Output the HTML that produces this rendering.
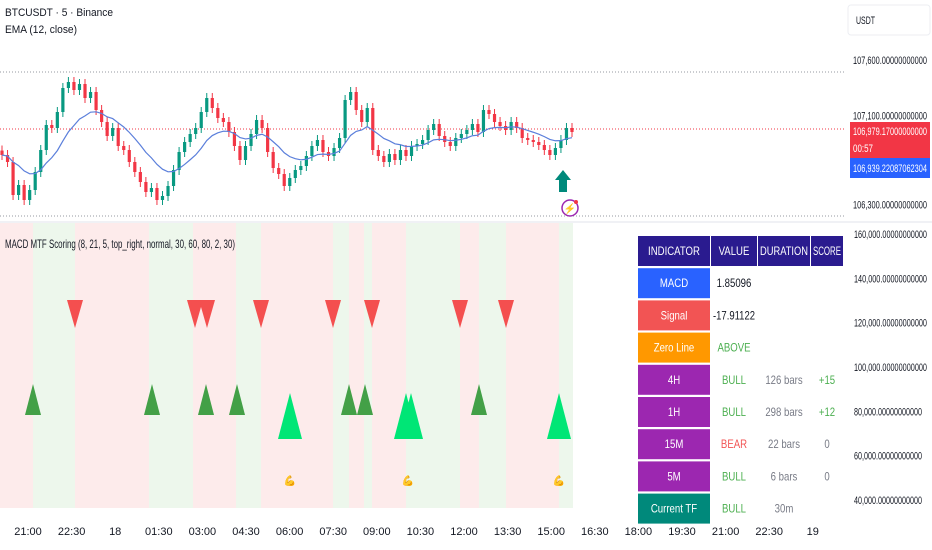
<!DOCTYPE html>
<html><head><meta charset="utf-8">
<style>
body{margin:0;width:932px;height:550px;background:#fff;overflow:hidden;font-family:"Liberation Sans",sans-serif}
svg{display:block}
text{font-family:"Liberation Sans",sans-serif}
</style></head>
<body>
<svg id="chart" width="932" height="550" viewBox="0 0 932 550">
  <g id="lower-bg"></g>
  <g id="upper"></g>
  <g id="lower"></g>
  <g id="axis"></g>
  <g id="timeaxis"></g>
  <text x="5" y="16" font-size="11" fill="#131722" textLength="108" lengthAdjust="spacingAndGlyphs">BTCUSDT · 5 · Binance</text>
  <text x="5" y="33" font-size="11" fill="#131722" textLength="72" lengthAdjust="spacingAndGlyphs">EMA (12, close)</text>
  <text x="5" y="248" font-size="12" fill="#131722" textLength="230" lengthAdjust="spacingAndGlyphs">MACD MTF Scoring (8, 21, 5, top_right, normal, 30, 60, 80, 2, 30)</text>
  <g><polygon points="563,170 571,180 567,180 567,192 559,192 559,180 555,180" fill="#00897b"/></g>
  <g><circle cx="570" cy="208" r="8" fill="none" stroke="#9c27b0" stroke-width="1.5"/><text x="570" y="212" font-size="10" fill="#9c27b0" text-anchor="middle">⚡</text><circle cx="576" cy="202" r="2" fill="#f23645"/></g>
  <g id="table"></g>
</svg>
<script>
const closes=[106745,106682,106385,106475,106340,106430,106592,106790,107015,106988,107132,107348,107402,107330,107384,107258,107312,107150,107042,106916,106988,106826,106790,106682,106592,106502,106412,106448,106340,106376,106466,106610,106772,106862,106934,106988,107132,107258,107168,107078,107042,106952,106826,106700,106826,106934,107060,106988,106772,106628,106574,106466,106538,106610,106646,106736,106826,106880,106772,106736,106808,106898,107240,107312,107150,107042,107168,106790,106736,106682,106754,106700,106790,106736,106826,106844,106880,106970,107024,106916,106862,106826,106898,106934,106970,107024,106952,107150,107114,107042,107006,106970,107042,106988,106898,106880,106862,106835,106790,106745,106808,106880,106988,106952];
const priceTicks=[107600,107100,106300];
const priceTickLabels=["107,600.00000000000","107,100.00000000000","106,300.00000000000"];
const lowerTicks=[160000,140000,120000,100000,80000,60000,40000];
const lowerTickLabels=["160,000.00000000000","140,000.00000000000","120,000.00000000000","100,000.00000000000","80,000.00000000000","60,000.00000000000","40,000.00000000000"];
const timeLabels=["21:00","22:30","18","01:30","03:00","04:30","06:00","07:30","09:00","10:30","12:00","13:30","15:00","16:30","18:00","19:30","21:00","22:30","19"];
const bgStarts=[0,33,75,149,193,236,261,333,349,364,372,406,460,479,506,559];
const bgTypes=["bear","bull","bear","bull","bear","bull","bear","bull","bear","bull","bear","bull","bear","bull","bear","bull"];
const sellSignals=[75,195,207,261,333,372,460,506];
const buySignals=[33,152,206,237,349,365,479];
const strongBuySignals=[290,406,411,559];
const flexSignals=[290,408,559];
const NS="http://www.w3.org/2000/svg";
function mk(t,a,p){const e=document.createElementNS(NS,t);for(const k in a)e.setAttribute(k,a[k]);p.appendChild(e);return e;}
function sq(el,w){el.setAttribute('textLength',w);el.setAttribute('lengthAdjust','spacingAndGlyphs');}
const py=v=>60+(107600-v)/9;
const xi=i=>2+i*570/(closes.length-1);
const ly=v=>234+(160000-v)*(266/120000);
const up=document.getElementById('upper');
let l=mk('line',{x1:0,x2:845,y1:72,y2:72,stroke:'#9598a1','stroke-dasharray':'1,2'},up);

l=mk('line',{x1:0,x2:845,y1:216,y2:216,stroke:'#9598a1','stroke-dasharray':'1,2'},up);

l=mk('line',{x1:0,x2:845,y1:py(106979),y2:py(106979),stroke:'#f23645','stroke-dasharray':'1,2'},up);

for(let i=0;i<closes.length;i++){
  const o=i?closes[i-1]:closes[0]+40, c=closes[i];
  const col=c>=o?'#089981':'#f23645';
  const g=mk('g',{},up);
  
  
  const hi=Math.max(o,c)+45, lo=Math.min(o,c)-45;
  mk('line',{x1:xi(i),x2:xi(i),y1:py(hi),y2:py(lo),stroke:col,'stroke-width':1},g);
  const t=py(Math.max(o,c)), b=py(Math.min(o,c));
  mk('rect',{x:xi(i)-1.6,y:t,width:3.2,height:Math.max(1,b-t),fill:col},g);
}
let e=closes[0],pts=[];const k=2/13;
closes.forEach((c,i)=>{e=i?c*k+e*(1-k):c;pts.push(xi(i)+','+py(e));});
l=mk('polyline',{points:pts.join(' '),fill:'none',stroke:'#5b7fdb','stroke-width':1.2},up);

l=mk('line',{x1:0,x2:932,y1:222,y2:222,stroke:'#e0e3eb'},up);

const bg=document.getElementById('lower-bg');
bgStarts.forEach((s,i)=>{const end=i<bgStarts.length-1?bgStarts[i+1]:573;
  const r=mk('rect',{x:s,y:223,width:end-s,height:285,fill:bgTypes[i]=='bear'?'#fdebeb':'#edf7ec'},bg);
  });
const lw=document.getElementById('lower');
sellSignals.forEach(x=>{const p=mk('polygon',{points:`${x-8},300 ${x+8},300 ${x},328`,fill:'#f44f4f'},lw);
  });
buySignals.forEach(x=>{const p=mk('polygon',{points:`${x-8},415 ${x+8},415 ${x},384`,fill:'#43a047'},lw);
  });
strongBuySignals.forEach(x=>{const p=mk('polygon',{points:`${x-12},439 ${x+12},439 ${x},393`,fill:'#00e676'},lw);
  });
flexSignals.forEach(x=>{const t=mk('text',{x:x,y:484,'font-size':10,'text-anchor':'middle',fill:'#f5a623'},lw);t.textContent='💪';
  });
const ax=document.getElementById('axis');
let r=mk('rect',{x:848,y:5,width:82,height:30,rx:3,fill:'#fff',stroke:'#eceef2'},ax);

let t=mk('text',{x:856,y:24,'font-size':11,fill:'#131722'},ax);t.textContent='USDT';sq(t,19);

priceTicks.forEach((v,i)=>{const tt=mk('text',{x:853,y:py(v)+4,'font-size':11,fill:'#131722'},ax);tt.textContent=priceTickLabels[i];sq(tt,74);
  });
r=mk('rect',{x:850,y:122,width:80,height:36,fill:'#f23645'},ax);

t=mk('text',{x:853,y:135,'font-size':11,fill:'#fff'},ax);t.textContent='106,979.17000000000';sq(t,74);

t=mk('text',{x:853,y:152,'font-size':11,fill:'#fff'},ax);t.textContent='00:57';sq(t,20);

r=mk('rect',{x:850,y:158,width:80,height:20,fill:'#2962ff'},ax);

t=mk('text',{x:853,y:172,'font-size':11,fill:'#fff'},ax);t.textContent='106,939.22087062304';sq(t,74);

lowerTicks.forEach((v,i)=>{const tt=mk('text',{x:854,y:ly(v)+4,'font-size':11,fill:'#131722'},ax);tt.textContent=lowerTickLabels[i];sq(tt,v>=100000?73:68);
  });
const ta=document.getElementById('timeaxis');
timeLabels.forEach((s,i)=>{const tt=mk('text',{x:28+i*43.6,y:535,'font-size':11,fill:'#131722','text-anchor':'middle'},ta);tt.textContent=s;
  });
const tb=document.getElementById('table');
const cols=[[638,72],[711,46],[758,52],[811,32]];
const rows=[
 [['INDICATOR','#fff','#2a1b8f'],['VALUE','#fff','#2a1b8f'],['DURATION','#fff','#2a1b8f'],['SCORE','#fff','#2a1b8f']],
 [['MACD','#fff','#2962ff'],['1.85096','#131722'],['',''],['','']],
 [['Signal','#fff','#f25454'],['-17.91122','#131722'],['',''],['','']],
 [['Zero Line','#fff','#ff9800'],['ABOVE','#4caf50'],['',''],['','']],
 [['4H','#fff','#9c27b0'],['BULL','#4caf50'],['126 bars','#787b86'],['+15','#4caf50']],
 [['1H','#fff','#9c27b0'],['BULL','#4caf50'],['298 bars','#787b86'],['+12','#4caf50']],
 [['15M','#fff','#9c27b0'],['BEAR','#f25454'],['22 bars','#787b86'],['0','#787b86']],
 [['5M','#fff','#9c27b0'],['BULL','#4caf50'],['6 bars','#787b86'],['0','#787b86']],
 [['Current TF','#fff','#00897b'],['BULL','#4caf50'],['30m','#787b86'],['','']]];
rows.forEach((row,ri)=>{const y=236+ri*32.2;
  row.forEach((c,ci)=>{const [x,w]=cols[ci];
    const rr=mk('rect',{x:x,y:y,width:w,height:30,fill:c[2]||'#fff'},tb);
    
    if(c[0]){const tx=mk('text',{x:x+w/2,y:y+19,'font-size':12,fill:c[1],'text-anchor':'middle'},tb);tx.textContent=c[0];
      const nat=tx.getComputedTextLength();
      sq(tx,Math.min(nat*0.8,w-4));
      }
  });});
</script>
</body></html>
